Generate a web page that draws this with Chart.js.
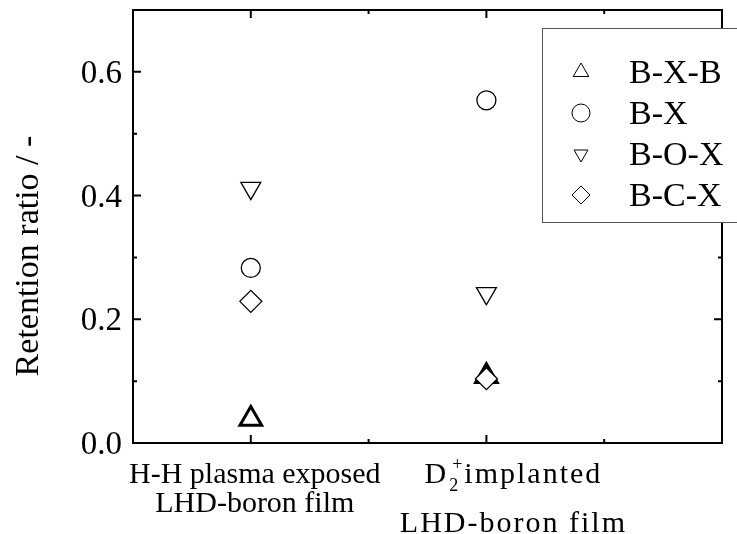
<!DOCTYPE html>
<html>
<head>
<meta charset="utf-8">
<script src="https://cdn.jsdelivr.net/npm/chart.js@4.4.0/dist/chart.umd.min.js"></script>
<style>
html, body { margin: 0; padding: 0; background: #fff; }
#wrap { width: 737px; height: 534px; }
</style>
</head>
<body>
<div id="wrap"><canvas id="grafico"></canvas></div>
<script>
// categories (x positions 1 and 2) and their two-line labels
const positions = [1, 2];
const categoryLines = [
    ['H-H plasma exposed', 'LHD-boron film'],
    ['D₂⁺implanted', 'LHD-boron film']
];
const seriesNames = ['B-X-B', 'B-X', 'B-O-X', 'B-C-X'];
// retention ratio for each category
const bxb = [0.039, 0.108];
const bx = [0.283, 0.554];
const box = [0.412, 0.242];
const bcx = [0.229, 0.104];
// axis ticks
const yMajor = [0.0, 0.2, 0.4, 0.6];
const yMinor = [0.1, 0.3, 0.5];
const xMajor = [1, 2];
const xMinor = [1.5, 2.5];
const yTitle = 'Retention ratio / -';

const serif = '"Liberation Serif", "Times New Roman", serif';

function toPoints(vals) {
    return vals.map((v, i) => ({ x: positions[i], y: v }));
}

function marker(style, radius, width, rotation, order) {
    return {
        pointStyle: style,
        pointRadius: radius,
        pointHoverRadius: radius,
        pointBorderWidth: width,
        pointRotation: rotation,
        pointBorderColor: '#000',
        pointBackgroundColor: '#fff',
        showLine: false,
        order: order
    };
}

const datasets = [
    Object.assign({ label: seriesNames[0], data: toPoints(bxb) }, marker('triangle', 12.5, 3, 0, 4)),
    Object.assign({ label: seriesNames[1], data: toPoints(bx) }, marker('circle', 9.5, 1.3, 0, 3)),
    Object.assign({ label: seriesNames[2], data: toPoints(box) }, marker('triangle', 11.5, 1.3, 180, 2)),
    Object.assign({ label: seriesNames[3], data: toPoints(bcx) }, marker('rectRot', 11, 1.3, 0, 1))
];

// draw a label line, with ₂ as subscript and ⁺ as superscript
function drawRichLine(ctx, text, cx, base, size, spacing) {
    const parts = text.split(/([₂⁺]+)/).filter(p => p.length);
    const small = Math.round(size * 0.6);
    ctx.letterSpacing = spacing + 'px';
    let total = 0;
    const widths = parts.map(p => {
        let w;
        if (/^[₂⁺]+$/.test(p)) {
            ctx.font = small + 'px ' + serif;
            w = Math.max(ctx.measureText('2').width, ctx.measureText('+').width + 3) + 1;
        } else {
            ctx.font = size + 'px ' + serif;
            w = ctx.measureText(p).width;
        }
        total += w;
        return w;
    });
    let xx = cx - total / 2;
    ctx.textAlign = 'left';
    ctx.textBaseline = 'alphabetic';
    parts.forEach((p, i) => {
        if (/^[₂⁺]+$/.test(p)) {
            ctx.font = small + 'px ' + serif;
            if (p.includes('₂')) ctx.fillText('2', xx + 1, base + 8);
            if (p.includes('⁺')) ctx.fillText('+', xx + 4, base - 13);
        } else {
            ctx.font = size + 'px ' + serif;
            ctx.fillText(p, xx, base);
        }
        xx += widths[i];
    });
    ctx.letterSpacing = '0px';
}

const framePlugin = {
    id: 'frame',
    afterDraw(chart) {
        const { ctx, chartArea: a } = chart;
        const xs = chart.scales.x, ys = chart.scales.y;
        ctx.save();

        // box and inward ticks
        ctx.strokeStyle = '#000';
        ctx.lineWidth = 2;
        ctx.strokeRect(a.left, a.top, a.right - a.left, a.bottom - a.top);
        ctx.beginPath();
        yMajor.concat(yMinor).forEach(v => {
            const py = ys.getPixelForValue(v);
            const len = yMajor.includes(v) ? 8 : 4;
            ctx.moveTo(a.left, py); ctx.lineTo(a.left + len, py);
            ctx.moveTo(a.right, py); ctx.lineTo(a.right - len, py);
        });
        xMajor.concat(xMinor).forEach(v => {
            const px = xs.getPixelForValue(v);
            const len = xMajor.includes(v) ? 8 : 4;
            ctx.moveTo(px, a.bottom); ctx.lineTo(px, a.bottom - len);
            ctx.moveTo(px, a.top); ctx.lineTo(px, a.top + len);
        });
        ctx.stroke();

        // y tick labels
        ctx.fillStyle = '#000';
        ctx.font = '33px ' + serif;
        ctx.textAlign = 'right';
        ctx.textBaseline = 'alphabetic';
        yMajor.forEach(v => {
            ctx.fillText(v.toFixed(1), a.left - 11, ys.getPixelForValue(v) + 11);
        });

        // legend box
        const lx = 542, ly = 28, lh = 194;
        ctx.fillStyle = '#fff';
        ctx.fillRect(lx, ly, 220, lh);
        ctx.strokeStyle = '#555';
        ctx.lineWidth = 1;
        ctx.strokeRect(lx + 0.5, ly + 0.5, 220, lh);
        const legendR = [9, 9, 8, 9];
        datasets.forEach((ds, i) => {
            const yc = ly + 44 + i * 41;
            ctx.fillStyle = '#fff';
            ctx.strokeStyle = '#000';
            ctx.lineWidth = 1;
            Chart.helpers.drawPoint(ctx, {
                pointStyle: ds.pointStyle,
                radius: legendR[i],
                rotation: ds.pointRotation,
                borderWidth: 1
            }, lx + 39, yc);
            ctx.fillStyle = '#000';
            ctx.font = '34px ' + serif;
            ctx.textAlign = 'left';
            ctx.textBaseline = 'alphabetic';
            ctx.fillText(ds.label, lx + 87, yc + 11);
        });

        // category labels under the x axis
        ctx.fillStyle = '#000';
        const shift = [4, 27];
        const bases = [[483, 512], [483, 532]];
        const spacing = [0, 2];
        categoryLines.forEach((lines, i) => {
            const cx = xs.getPixelForValue(positions[i]) + shift[i];
            lines.forEach((t, j) => drawRichLine(ctx, t, cx, bases[i][j], 30, spacing[i]));
        });

        // y axis title
        ctx.translate(38, 256);
        ctx.rotate(-Math.PI / 2);
        ctx.font = '34px ' + serif;
        ctx.textAlign = 'center';
        ctx.textBaseline = 'alphabetic';
        ctx.fillText(yTitle, 0, 0);
        ctx.restore();
    }
};

new Chart(document.getElementById('grafico'), {
    type: 'scatter',
    data: { datasets: datasets },
    options: {
        responsive: true,
        maintainAspectRatio: false,
        animation: false,
        layout: { autoPadding: false, padding: { top: 10, right: 15, left: 0, bottom: 0 } },
        plugins: { legend: { display: false }, tooltip: { enabled: false } },
        scales: {
            x: {
                type: 'linear', min: 0.5, max: 3,
                grid: { display: false }, border: { display: false },
                ticks: { display: false },
                afterFit: s => { s.height = 91; }
            },
            y: {
                min: 0, max: 0.7,
                grid: { display: false }, border: { display: false },
                ticks: { display: false, stepSize: 0.1 },
                afterFit: s => { s.width = 133; }
            }
        }
    },
    plugins: [framePlugin]
});
</script>
</body>
</html>
